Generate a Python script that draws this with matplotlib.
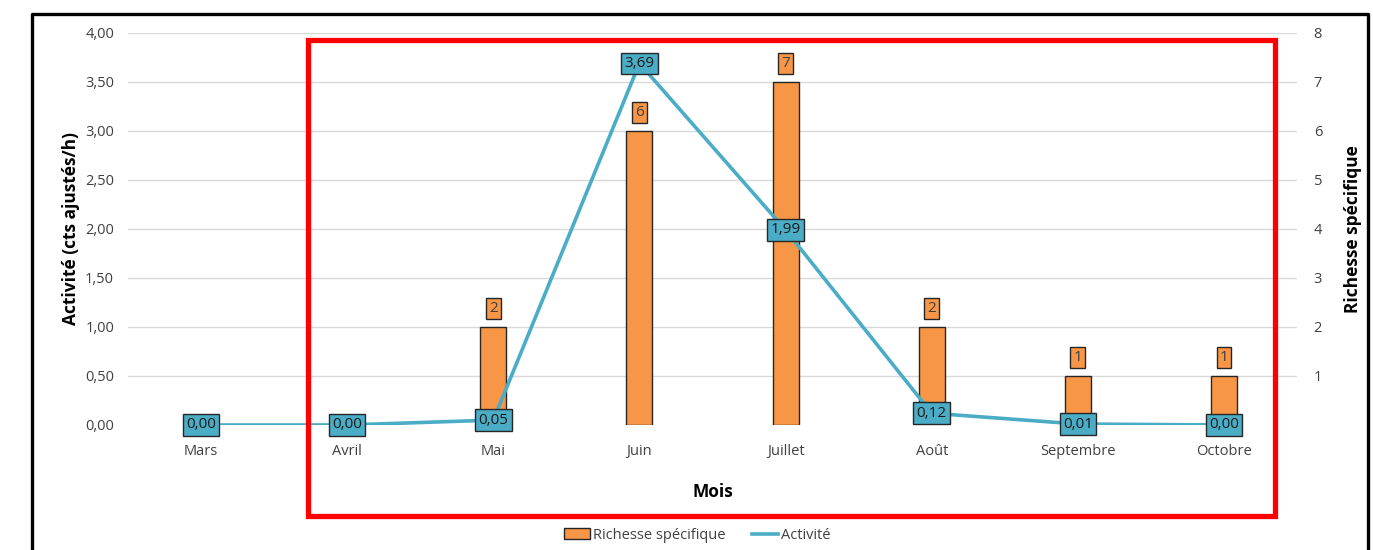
import matplotlib
matplotlib.use("Agg")
import matplotlib.pyplot as plt
from matplotlib.patches import Rectangle, Patch
from matplotlib.lines import Line2D

months = ["Mars", "Avril", "Mai", "Juin", "Juillet", "Août", "Septembre", "Octobre"]
richesse = [0, 0, 2, 6, 7, 2, 1, 1]
activite = [0.00, 0.00, 0.05, 3.69, 1.99, 0.12, 0.01, 0.00]
left_ticks = [0, 0.5, 1.0, 1.5, 2.0, 2.5, 3.0, 3.5, 4.0]
right_ticks = [1, 2, 3, 4, 5, 6, 7, 8]

ORANGE = "#F79646"
BLUE = "#4BACC6"
TXT = "#404040"
FONT = "Open Sans"

plt.rcParams["font.family"] = [FONT, "DejaVu Sans"]

fig = plt.figure(figsize=(13.73, 5.5), dpi=100)
ax = fig.add_axes([0.0932, 0.2273, 0.8515, 0.7127])
ax2 = ax.twinx()

# bars on right axis (below), line on left axis (above)
ax.set_zorder(ax2.get_zorder() + 1)
ax.patch.set_visible(False)

x = list(range(len(months)))
ax2.bar(x, richesse, width=0.178, color=ORANGE, edgecolor="#262626", linewidth=1.0, zorder=3)
ax2.set_ylim(0, 8)
ax2.set_yticks(right_ticks)
ax2.set_yticklabels([str(t) for t in right_ticks])
ax2.grid(axis="y", color="#D9D9D9", linewidth=1.0, zorder=0)
ax2.set_axisbelow(True)

for xi, v in zip(x, richesse):
    if v > 0:
        ax2.annotate(str(v), (xi, v), xytext=(0, 13), textcoords="offset points",
                     ha="center", va="center", fontsize=11, color=TXT, zorder=6,
                     bbox=dict(boxstyle="square,pad=0.2", fc=ORANGE, ec="#262626", lw=1.0))

ax.plot(x, activite, color=BLUE, linewidth=2.6, zorder=4, solid_capstyle="round")
ax.set_ylim(0, 4)
ax.set_xlim(-0.5, len(months) - 0.5)
ax.set_yticks(left_ticks)
ax.set_yticklabels([f"{t:.2f}".replace(".", ",") for t in left_ticks])
for xi, v in zip(x, activite):
    ax.annotate(f"{v:.2f}".replace(".", ","), (xi, v), xytext=(0, 0), textcoords="offset points",
                ha="center", va="center", fontsize=11, color="#1a1a1a", zorder=7,
                bbox=dict(boxstyle="square,pad=0.22", fc=BLUE, ec="#262626", lw=1.0))

ax.set_xticks(x)
ax.set_xticklabels(months)

for a in (ax, ax2):
    for s in a.spines.values():
        s.set_visible(False)
    a.tick_params(length=0, labelsize=10.5, colors=TXT)
ax.tick_params(axis="y", pad=10)
ax2.tick_params(axis="y", pad=12)
ax.tick_params(axis="x", pad=14)

ax.set_ylabel("Activité (cts ajustés/h)", fontsize=12.5, fontweight="bold", color="black", labelpad=4)
ax2.set_ylabel("Richesse spécifique", fontsize=12.5, fontweight="bold", color="black", labelpad=16)
ax.set_xlabel("Mois", fontsize=12.5, fontweight="bold", color="black", labelpad=17)

handles = [Patch(facecolor=ORANGE, edgecolor="#262626", linewidth=1.0),
           Line2D([0], [0], color=BLUE, linewidth=2.6)]
fig.legend(handles, ["Richesse spécifique", "Activité"], loc="center", bbox_to_anchor=(0.508, 0.027),
           ncol=2, frameon=False, fontsize=10.5, handlelength=1.8, handleheight=0.7,
           handletextpad=0.2, columnspacing=1.8, labelcolor=TXT)

# red highlight rectangle
W, H = 1373, 550
fig.patches.append(Rectangle((308 / W, 1 - 516 / H), (1275 - 308) / W, (516 - 40) / H,
                             transform=fig.transFigure, fill=False, ec="#FF0000", lw=3.8, zorder=10))
# outer black frame (open at bottom)
fig.add_artist(Line2D([32 / W, 32 / W, 1368 / W, 1368 / W], [0, 1 - 14 / H, 1 - 14 / H, 0],
                      transform=fig.transFigure, color="black", lw=2.4, zorder=10))

fig.savefig("out.png", dpi=100)
